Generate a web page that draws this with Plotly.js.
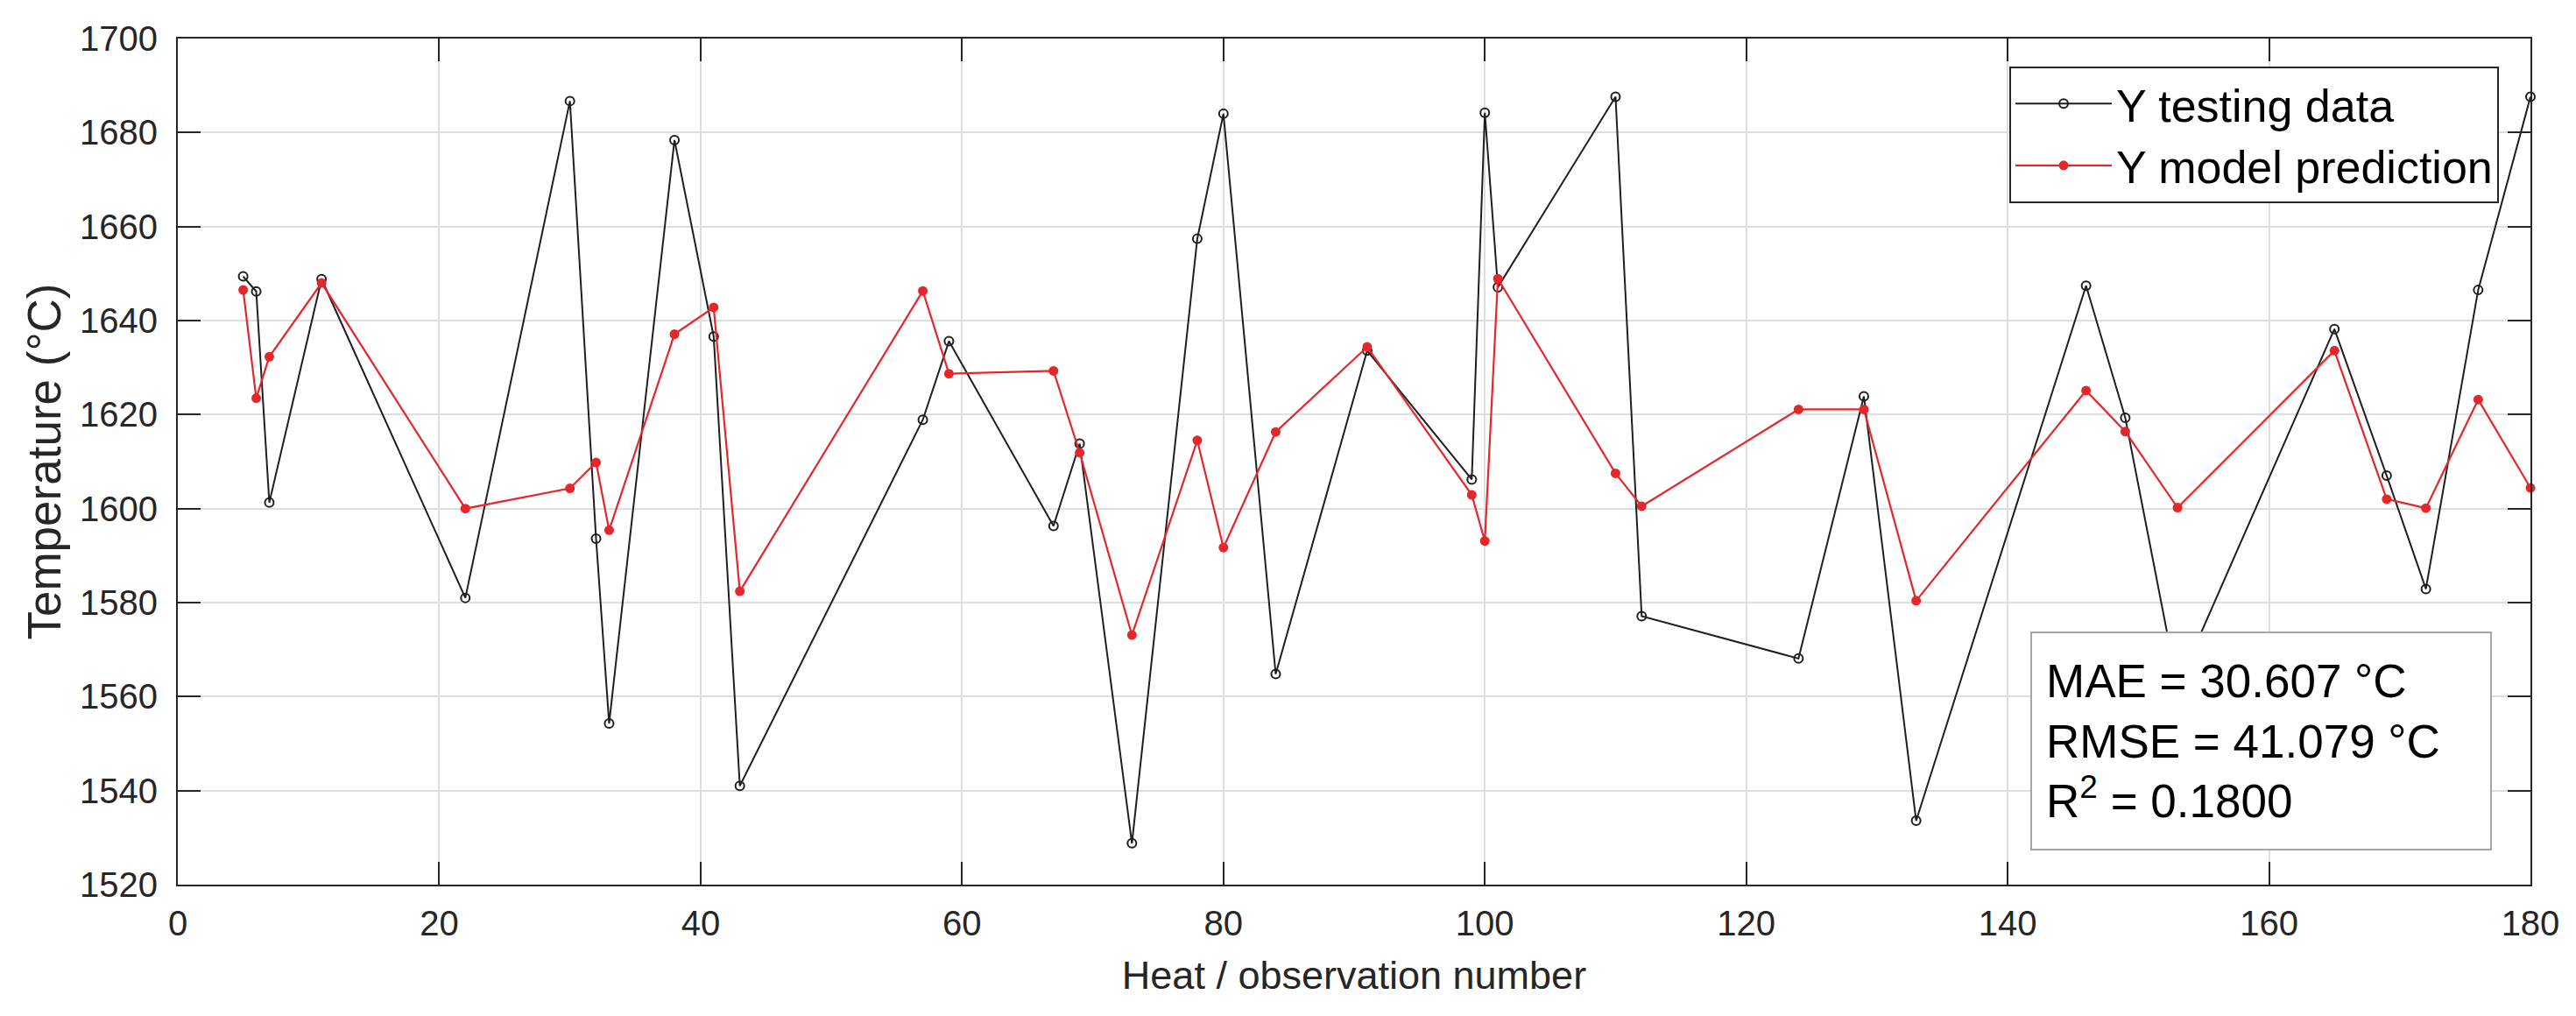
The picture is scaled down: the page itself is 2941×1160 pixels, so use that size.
<!DOCTYPE html>
<html>
<head>
<meta charset="utf-8">
<script src="https://cdn.plot.ly/plotly-3.0.1.min.js"></script>
<style>
  html, body { margin: 0; padding: 0; background: #fff; }
  #graph { width: 2941px; height: 1160px; }
</style>
</head>
<body>
<div id="graph"></div>
<script>
// heat numbers of the test set
var heatNumbers = [5, 6, 7, 11, 22, 30, 32, 33, 38, 41, 43, 57, 59, 67, 69, 73, 78, 80, 84, 91,
  99, 100, 101, 110, 112, 124, 129, 133, 146, 149, 153, 165, 169, 172, 176, 180];

// measured temperature (testing data)
var yTesting = [1649.4, 1646.2, 1601.3, 1648.8, 1581.0, 1686.7, 1593.6, 1554.3, 1678.4, 1636.6,
  1541.0, 1618.9, 1635.6, 1596.3, 1613.8, 1528.8, 1657.4, 1684.0, 1564.8, 1633.6,
  1606.2, 1684.2, 1647.1, 1687.6, 1577.1, 1568.1, 1623.9, 1533.6, 1647.4, 1619.3,
  1562.2, 1638.2, 1607.0, 1582.9, 1646.5, 1687.6];

// model prediction
var yPredicted = [1646.5, 1623.5, 1632.3, 1648.0, 1600.0, 1604.3, 1609.8, 1595.4, 1637.1, 1642.8,
  1582.4, 1646.3, 1628.7, 1629.3, 1611.9, 1573.1, 1614.5, 1591.7, 1616.3, 1634.4,
  1602.9, 1593.1, 1648.9, 1607.5, 1600.5, 1621.1, 1621.1, 1580.4, 1625.1, 1616.4,
  1600.2, 1633.6, 1602.0, 1600.1, 1623.2, 1604.4];

var seriesNames = ['Y testing data', 'Y model prediction'];
var statsLines = ['MAE = 30.607 °C', 'RMSE = 41.079 °C', 'R<sup>2</sup> = 0.1800'];

var graphAPI = (function(){

'use strict';

  var graph = document.getElementById('graph');

  var FONT = '"Liberation Sans", Arial, Helvetica, sans-serif';
  var INK = '#262626';
  var RED = '#e5262b';

  var tracePattern = {
    type: 'scatter',
    mode: 'lines+markers',
    cliponaxis: false,
    hoverinfo: 'skip'
  };

  var defaultAxis = {
    showline: true,
    linecolor: INK,
    linewidth: 2,
    mirror: 'ticks',
    ticks: 'inside',
    ticklen: 26,
    tickwidth: 2,
    tickcolor: INK,
    showgrid: true,
    gridcolor: '#dedede',
    gridwidth: 2,
    zeroline: false,
    tickfont: { family: FONT, size: 40, color: INK },
    automargin: false
  };

  function constructAxis( options ){
    return Object.assign( {}, defaultAxis, options );
  }

  function constructTraces(){
    var testing = Object.assign( {}, tracePattern, {
      name: seriesNames[0],
      x: heatNumbers,
      y: yTesting,
      line: { color: '#1f1f1f', width: 2 },
      marker: { symbol: 'circle-open', size: 10, color: '#1f1f1f', line: { width: 2 } }
    });
    var predicted = Object.assign( {}, tracePattern, {
      name: seriesNames[1],
      x: heatNumbers,
      y: yPredicted,
      line: { color: RED, width: 2.2 },
      marker: { symbol: 'circle', size: 11, color: RED }
    });
    return [ testing, predicted ];
  }

  function constructLayout(){
    return {
      width: 2941,
      height: 1160,
      paper_bgcolor: '#fff',
      plot_bgcolor: '#fff',
      margin: { l: 203, r: 52, t: 44, b: 150, pad: 0 },
      font: { family: FONT, color: INK },
      showlegend: true,
      xaxis: constructAxis({
        range: [0, 180],
        dtick: 20,
        tick0: 0,
        ticklabelstandoff: 8,
        title: { text: 'Heat / observation number', font: { family: FONT, size: 45, color: INK }, standoff: 22 }
      }),
      yaxis: constructAxis({
        range: [1520, 1700],
        dtick: 20,
        tick0: 1520,
        ticklabelstandoff: 13,
        title: { text: 'Temperature (°C)', font: { family: FONT, size: 53, color: INK }, standoff: 4 }
      }),
      legend: {
        x: 0.9866,
        xanchor: 'right',
        y: 0.9669,
        yanchor: 'top',
        bgcolor: '#fff',
        bordercolor: INK,
        borderwidth: 2,
        itemwidth: 110,
        tracegroupgap: 0,
        font: { family: FONT, size: 52, color: '#000' }
      },
      annotations: [{
        xref: 'paper',
        yref: 'paper',
        x: 0.9836,
        xanchor: 'right',
        y: 0.0404,
        yanchor: 'bottom',
        showarrow: false,
        align: 'left',
        valign: 'middle',
        width: 491,
        height: 214,
        text: statsLines.join('<br>'),
        font: { family: FONT, size: 53, color: '#000' },
        bgcolor: '#fff',
        bordercolor: '#a6a6a6',
        borderwidth: 2,
        borderpad: 16
      }]
    };
  }

  function init(){
    Plotly.newPlot( graph, constructTraces(), constructLayout(), { displayModeBar: false, staticPlot: true } );
  }

  return {
    init: init
  };

})();

graphAPI.init();
</script>
</body>
</html>
